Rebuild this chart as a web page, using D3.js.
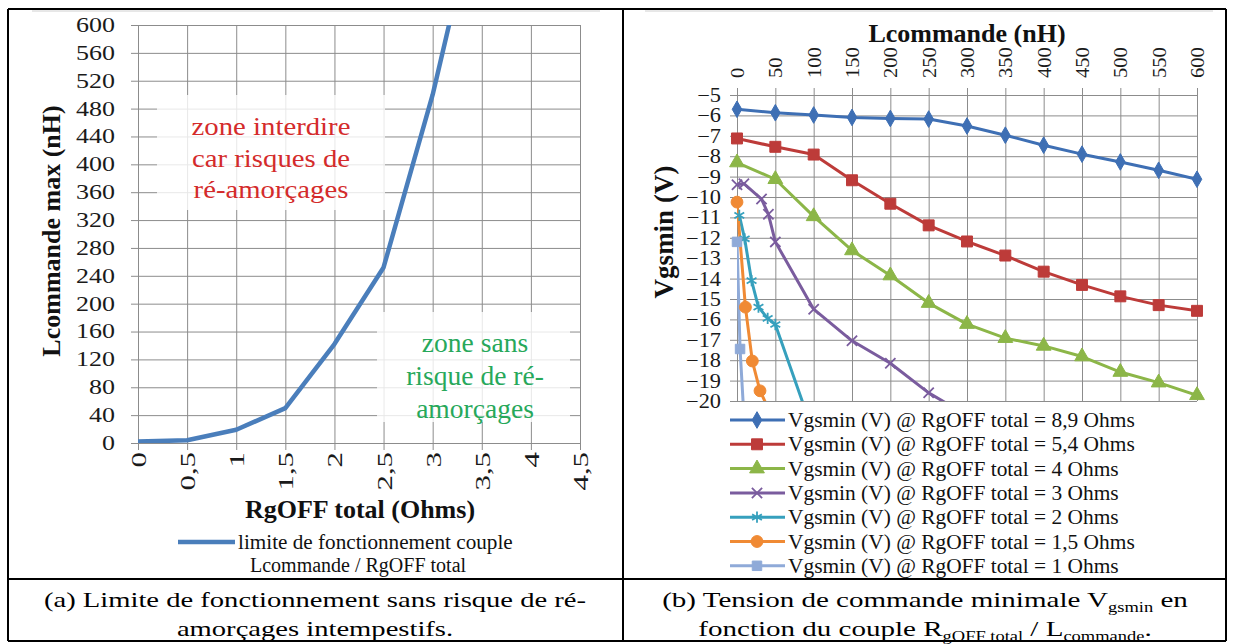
<!DOCTYPE html>
<html>
<head>
    <title>Lcommande / RgOFF</title>
    <meta charset="utf-8" />
    <style>
        body { margin: 0; background: #fff; }
        svg, svg text { font-family: "Liberation Serif", "Times New Roman", serif; }
        svg { display: block; }
        .grid line { stroke: #8c8c8c; stroke-width: 1; }
        .grid path, .axis path { display: none; }
        .axis line { stroke: #8c8c8c; stroke-width: 1; }
        .axis text { fill: #1a1a1a; }
        .frame { stroke: #000; stroke-width: 2; }
    </style>
    <script src="https://cdnjs.cloudflare.com/ajax/libs/d3/7.8.5/d3.min.js"></script>
</head>
<body>
<script>

// ---- data, chart (a)
let rgoffTotal = [0, 0.5, 1, 1.5, 2, 2.5, 3, 3.5];
let lcmdMax = [2, 4, 19, 50, 142, 252, 500, 800];
let xTicksA = [0, 0.5, 1, 1.5, 2, 2.5, 3, 3.5, 4, 4.5];
let xLabelsA = ["0", "0,5", "1", "1,5", "2", "2,5", "3", "3,5", "4", "4,5"];
let yTicksA = [0, 40, 80, 120, 160, 200, 240, 280, 320, 360, 400, 440, 480, 520, 560, 600];

// ---- data, chart (b)
let xTicksB = [0, 50, 100, 150, 200, 250, 300, 350, 400, 450, 500, 550, 600];
let yTicksB = [-5, -6, -7, -8, -9, -10, -11, -12, -13, -14, -15, -16, -17, -18, -19, -20];

let lcmd89 = [0, 50, 100, 150, 200, 250, 300, 350, 400, 450, 500, 550, 600];
let vgs89 = [-5.7, -5.87, -5.98, -6.1, -6.15, -6.18, -6.52, -6.97, -7.46, -7.9, -8.28, -8.69, -9.13];
let lcmd54 = [0, 50, 100, 150, 200, 250, 300, 350, 400, 450, 500, 550, 600];
let vgs54 = [-7.13, -7.54, -7.92, -9.18, -10.33, -11.39, -12.18, -12.87, -13.66, -14.31, -14.87, -15.3, -15.58];
let lcmd4 = [0, 50, 100, 150, 200, 250, 300, 350, 400, 450, 500, 550, 600];
let vgs4 = [-8.31, -9.13, -10.95, -12.62, -13.85, -15.2, -16.23, -16.92, -17.3, -17.82, -18.58, -19.1, -19.72];
let lcmd3 = [0, 9, 32, 41, 50, 100, 150, 200, 250, 300];
let vgs3 = [-9.4, -9.35, -10.1, -10.85, -12.2, -15.5, -17.05, -18.15, -19.6, -20.7];
let lcmd2 = [3, 10, 19, 28, 40, 50, 100];
let vgs2 = [-10.9, -12.05, -14.1, -15.4, -15.95, -16.25, -21.6];
let lcmd15 = [0, 11, 20, 30, 40];
let vgs15 = [-10.25, -15.4, -18.04, -19.5, -20.3];
let lcmd1 = [0, 4, 10];
let vgs1 = [-12.2, -17.45, -21.4];

let seriesNames = [
    "Vgsmin (V) @ RgOFF total = 8,9 Ohms",
    "Vgsmin (V) @ RgOFF total = 5,4 Ohms",
    "Vgsmin (V) @ RgOFF total = 4 Ohms",
    "Vgsmin (V) @ RgOFF total = 3 Ohms",
    "Vgsmin (V) @ RgOFF total = 2 Ohms",
    "Vgsmin (V) @ RgOFF total = 1,5 Ohms",
    "Vgsmin (V) @ RgOFF total = 1 Ohms"
];
let seriesX = [lcmd89, lcmd54, lcmd4, lcmd3, lcmd2, lcmd15, lcmd1];
let seriesY = [vgs89, vgs54, vgs4, vgs3, vgs2, vgs15, vgs1];
let seriesColors = ["#3e6fb4", "#bd3b39", "#8cb648", "#7a5c9e", "#36a0bd", "#f08a34", "#8faad8"];
let seriesSymbols = [d3.symbolDiamond, d3.symbolSquare, d3.symbolTriangle, d3.symbolTimes,
                     d3.symbolAsterisk, d3.symbolCircle, d3.symbolSquare];
let symbolSizes = [80, 120, 95, 70, 90, 110, 90];
let strokeSymbol = [false, false, false, true, true, false, false];

let W = 1233, H = 644;
let serif = "Liberation Serif, Times New Roman, serif";

let svg = d3.select("body").append("svg")
    .attr("width", W)
    .attr("height", H)
    .attr("font-family", serif);

svg.append("rect").attr("width", W).attr("height", H).attr("fill", "#fff");

// text helper: stretched along baseline like the original
function label(g, txt, x, y, o) {
    return g.append("text")
        .text(txt)
        .attr("transform", "translate(" + x + "," + y + ")" +
            (o.rot ? " rotate(" + o.rot + ")" : "") +
            " scale(" + (o.sx || 1) + ",1)")
        .attr("font-family", serif)
        .attr("font-size", o.size)
        .attr("text-anchor", o.anchor || "start")
        .attr("font-weight", o.bold ? "bold" : null)
        .attr("fill", o.color || "#111");
}

let defs = svg.append("defs");

// ================= chart (a) =================
let xA = d3.scaleLinear().domain([0, 4.5]).range([138, 580]);
let yA = d3.scaleLinear().domain([0, 600]).range([443, 25]);

let gA = svg.append("g");

gA.append("line").attr("x1", 32).attr("x2", 600).attr("y1", 11).attr("y2", 11)
    .attr("stroke", "#d0d0d0");

// grid
gA.append("g").attr("class", "grid")
    .attr("transform", "translate(0," + yA(0) + ")")
    .call(d3.axisBottom(xA).tickValues(xTicksA).tickSize(-(yA(0) - yA(600))).tickFormat(""));
gA.append("g").attr("class", "grid")
    .attr("transform", "translate(" + xA(0) + ",0)")
    .call(d3.axisLeft(yA).tickValues(yTicksA).tickSize(-(xA(4.5) - xA(0))).tickFormat(""));

// axes with outward ticks
let axA_y = gA.append("g").attr("class", "axis")
    .attr("transform", "translate(" + xA(0) + ",0)")
    .call(d3.axisLeft(yA).tickValues(yTicksA).tickSize(7));
axA_y.attr("font-family", serif);
axA_y.selectAll("text")
    .attr("font-size", 20)
    .attr("transform", "scale(1.3,1)")
    .attr("x", -23 / 1.3);

let axA_x = gA.append("g").attr("class", "axis")
    .attr("transform", "translate(0," + yA(0) + ")")
    .call(d3.axisBottom(xA).tickValues(xTicksA).tickSize(7)
        .tickFormat((d, i) => xLabelsA[i]));
axA_x.attr("font-family", serif);
axA_x.selectAll("text")
    .attr("font-size", 22)
    .attr("x", 0).attr("y", 0)
    .attr("dy", "0.34em")
    .attr("text-anchor", "end")
    .attr("transform", "translate(0,9) rotate(-90) scale(1.4,1)");

// white text boxes
gA.append("rect").attr("x", 157).attr("y", 95).attr("width", 228).attr("height", 115)
    .attr("fill", "#fff").attr("fill-opacity", 0.8);
gA.append("rect").attr("x", 377).attr("y", 312).attr("width", 193).attr("height", 110)
    .attr("fill", "#fff").attr("fill-opacity", 0.8);

defs.append("clipPath").attr("id", "clipA")
    .append("rect").attr("x", xA(0)).attr("y", yA(600))
    .attr("width", xA(4.5) - xA(0)).attr("height", yA(0) - yA(600));

let lineA = d3.line()
    .x((d, i) => xA(rgoffTotal[i]))
    .y(d => yA(d));

gA.append("path")
    .datum(lcmdMax)
    .attr("clip-path", "url(#clipA)")
    .attr("fill", "none")
    .attr("stroke", "#4a7ebb")
    .attr("stroke-width", 4.5)
    .attr("stroke-linejoin", "round")
    .attr("d", lineA);

// zone texts
let redLines = ["zone interdire", "car risques de", "ré-amorçages"];
redLines.forEach((t, i) => {
    label(gA, t, 271, 135 + i * 31.5, { size: 25, sx: 1.15, anchor: "middle", color: "#d42b2b" });
});
let greenLines = ["zone sans", "risque de ré-", "amorçages"];
greenLines.forEach((t, i) => {
    label(gA, t, 475, 352 + i * 33, { size: 27, sx: 1.02, anchor: "middle", color: "#27a85a" });
});

// titles
label(gA, "Lcommande max (nH)", 60, 231, { size: 26, bold: true, rot: -90, anchor: "middle" });
label(gA, "RgOFF total (Ohms)", 360, 518, { size: 26, bold: true, anchor: "middle" });

// legend
gA.append("line").attr("x1", 178).attr("x2", 235).attr("y1", 542).attr("y2", 542)
    .attr("stroke", "#4a7ebb").attr("stroke-width", 4.5);
label(gA, "limite de fonctionnement couple", 238, 549, { size: 20, sx: 1.06 });
label(gA, "Lcommande / RgOFF total", 250, 572, { size: 20, sx: 1.0 });

// ================= chart (b) =================
let xB = d3.scaleLinear().domain([0, 600]).range([737, 1197]);
let yB = d3.scaleLinear().domain([-5, -20]).range([95, 401]);

let gB = svg.append("g");

gB.append("line").attr("x1", 645).attr("x2", 1213).attr("y1", 11).attr("y2", 11)
    .attr("stroke", "#d0d0d0");

gB.append("g").attr("class", "grid")
    .attr("transform", "translate(0," + yB(-20) + ")")
    .call(d3.axisBottom(xB).tickValues(xTicksB).tickSize(-(yB(-20) - yB(-5))).tickFormat(""));
gB.append("g").attr("class", "grid")
    .attr("transform", "translate(" + xB(0) + ",0)")
    .call(d3.axisLeft(yB).tickValues(yTicksB).tickSize(-(xB(600) - xB(0))).tickFormat(""));

let axB_y = gB.append("g").attr("class", "axis")
    .attr("transform", "translate(" + xB(0) + ",0)")
    .call(d3.axisLeft(yB).tickValues(yTicksB).tickSize(7));
axB_y.attr("font-family", serif);
axB_y.selectAll("text")
    .attr("font-size", 20)
    .attr("transform", "scale(1.12,1)")
    .attr("x", -16 / 1.12);

let axB_x = gB.append("g").attr("class", "axis")
    .attr("transform", "translate(0," + yB(-5) + ")")
    .call(d3.axisTop(xB).tickValues(xTicksB).tickSize(7));
axB_x.attr("font-family", serif);
axB_x.selectAll("text")
    .attr("font-size", 19)
    .attr("x", 0).attr("y", 0)
    .attr("dy", "0.34em")
    .attr("text-anchor", "start")
    .attr("transform", "translate(0,-17) rotate(-90) scale(1.08,1)");

defs.append("clipPath").attr("id", "clipB")
    .append("rect").attr("x", xB(0)).attr("y", yB(-5))
    .attr("width", xB(600) - xB(0)).attr("height", yB(-20) - yB(-5));

let lineB = d3.line()
    .x(d => xB(d[0]))
    .y(d => yB(d[1]));

seriesNames.forEach((name, s) => {
    let pts = seriesX[s].map((x, i) => [x, seriesY[s][i]]);
    gB.append("path")
        .datum(pts)
        .attr("clip-path", "url(#clipB)")
        .attr("fill", "none")
        .attr("stroke", seriesColors[s])
        .attr("stroke-width", 3)
        .attr("stroke-linejoin", "round")
        .attr("d", lineB);
});

// markers drawn after all lines, in series order
seriesNames.forEach((name, s) => {
    let pts = seriesX[s].map((x, i) => [x, seriesY[s][i]]).filter(d => d[1] >= -20);
    let sym = d3.symbol().type(seriesSymbols[s]).size(symbolSizes[s]);
    gB.selectAll(null)
        .data(pts)
        .enter()
        .append("path")
        .attr("transform", d => "translate(" + xB(d[0]) + "," + yB(d[1]) + ")")
        .attr("d", sym)
        .attr("fill", strokeSymbol[s] ? "none" : seriesColors[s])
        .attr("stroke", seriesColors[s])
        .attr("stroke-width", strokeSymbol[s] ? 1.8 : 1);
});

// titles
label(gB, "Lcommande (nH)", 967, 42, { size: 26, bold: true, anchor: "middle" });
label(gB, "Vgsmin (V)", 673, 232, { size: 27, bold: true, rot: -90, anchor: "middle" });

// legend
let legB = gB.append("g");
seriesNames.forEach((name, s) => {
    let y = 420 + s * 24.3;
    legB.append("line").attr("x1", 730).attr("x2", 785).attr("y1", y).attr("y2", y)
        .attr("stroke", seriesColors[s]).attr("stroke-width", 3);
    legB.append("path")
        .attr("transform", "translate(757," + y + ")")
        .attr("d", d3.symbol().type(seriesSymbols[s]).size(symbolSizes[s]))
        .attr("fill", strokeSymbol[s] ? "none" : seriesColors[s])
        .attr("stroke", seriesColors[s])
        .attr("stroke-width", strokeSymbol[s] ? 1.8 : 1);
    label(legB, name, 788, y + 7, { size: 20, sx: 1.07 });
});

// ================= table frame and captions =================
let frame = svg.append("g").attr("class", "frame");
[[8, 9, 1226, 9], [8, 579, 1226, 579], [8, 641, 1226, 641],
 [8, 9, 8, 641], [623, 9, 623, 641], [1226, 9, 1226, 641]].forEach(l => {
    frame.append("line").attr("x1", l[0]).attr("y1", l[1]).attr("x2", l[2]).attr("y2", l[3]);
});

label(svg, "(a) Limite de fonctionnement sans risque de ré-", 315, 607, { size: 22, sx: 1.3, anchor: "middle", color: "#000" });
label(svg, "amorçages intempestifs.", 315, 636, { size: 22, sx: 1.3, anchor: "middle", color: "#000" });

let capB1 = label(svg, "", 925, 607, { size: 22, sx: 1.32, anchor: "middle", color: "#000" });
capB1.append("tspan").text("(b) Tension de commande minimale V");
capB1.append("tspan").text("gsmin").attr("font-size", 14).attr("dy", 5);
capB1.append("tspan").text(" en").attr("dy", -5);

let capB2 = label(svg, "", 925, 636, { size: 22, sx: 1.32, anchor: "middle", color: "#000" });
capB2.append("tspan").text("fonction du couple R");
capB2.append("tspan").text("gOFF total").attr("font-size", 14).attr("dy", 5);
capB2.append("tspan").text(" / L").attr("dy", -5);
capB2.append("tspan").text("commande").attr("font-size", 14).attr("dy", 5);
capB2.append("tspan").text(".").attr("dy", -5);

</script>
</body>
</html>
